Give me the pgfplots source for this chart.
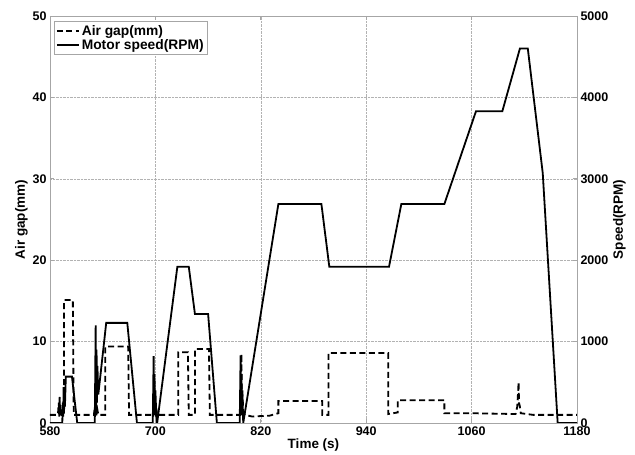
\documentclass[border=0pt]{standalone}
\usepackage{fontspec}
\setmainfont{Liberation Sans}
\usepackage{pgfplots}
\pgfplotsset{compat=1.18}
\pgfplotsset{
  common/.style={
    scale only axis, width=527pt, height=407pt,
    xmin=580, xmax=1180,
    tick align=inside,
    major tick length=4pt,
    tick style={gray!70, line width=0.6pt},
    axis line style={gray!70, line width=0.8pt},
    every tick label/.append style={font=\fontsize{12.5}{14}\selectfont\bfseries},
    /pgf/number format/assume math mode=true,
    /pgf/number format/1000 sep={},
    label style={font=\fontsize{13.5}{15}\selectfont\bfseries},
  }
}
\begin{document}
\begin{tikzpicture}
\begin{axis}[common,
  ymin=0, ymax=50,
  xtick={580,700,...,1180}, ytick={0,10,...,50},
  grid=major, grid style={densely dotted, gray!60, line width=0.5pt},
  xlabel={Time (s)}, ylabel={Air gap(mm)},
  xlabel style={yshift=4pt},
  ylabel style={yshift=-2pt},
  legend style={at={(0.008,0.987)}, anchor=north west, draw=gray!70, line width=0.6pt,
    font=\fontsize{13.8}{15}\selectfont\bfseries, inner sep=1.5pt, row sep=-1pt},
  legend cell align=left,
  legend image code/.code={\draw[#1] (0pt,0pt) -- (22pt,0pt);},
]
\addplot[black, line width=1.8pt, dash pattern=on 6pt off 3.5pt] coordinates {
(580,1.0) (589,1.0) (590,2.5) (590.5,0.8) (591,3.2) (591.5,1.0) (592,2.2) (593,1.0) (596,1.0)
(596,15.1) (606,15.1) (607,1.0)
(630,1.0) (631,2.0) (631.5,0.8) (632,3.0) (633,0.9) (634,1.6) (635,1.0)
(643,1.0) (643,9.4) (669,9.4) (670,1.0)
(699,1.0) (700,2.2) (700.5,0.8) (701,1.8) (702,1.0)
(726,1.0) (726,8.7) (737,8.7) (738,1.0)
(745,1.0) (745,9.1) (761,9.1) (762,1.0)
(797,1.0) (798,8.5) (798.5,1.5) (799,4.0) (800,1.5) (802,1.0)
(810,0.8) (830,0.9) (840,1.2)
(840,2.7) (890,2.7) (890,1.0) (897,1.0)
(897,8.6) (965,8.6) (965,1.1) (976,1.3)
(976,2.8) (1029,2.8) (1029,1.2) (1060,1.2) (1110,1.1)
(1112,2.0) (1113.5,5.0) (1114,2.5) (1115,2.0) (1116,1.2) (1130,1.0) (1180,1.0)
};
\addlegendentry{Air gap(mm)}
\addlegendimage{black, line width=1.8pt}
\addlegendentry{Motor speed(RPM)}
\end{axis}
\begin{axis}[common,
  ymin=0, ymax=5000,
  axis y line*=right, axis x line=none,
  ytick={0,1000,...,5000},
  ylabel={Speed(RPM)},
  ylabel style={yshift=2pt},
]
\addplot[black, line width=1.8pt] coordinates {
(580,0) (594,0) (594.5,250) (595,80) (595.5,440) (596,150) (596.5,350) (597,200) (598,570)
(605,570) (611,0)
(631,0) (632,1200) (632.5,150) (633,900) (633.5,250) (634,700) (635,350) (644,1230)
(668,1230) (679,0)
(697,0) (698,820) (698.5,100) (699,600) (699.5,150) (700,400) (701,100) (702,0)
(725,1920) (738,1920) (745,1340) (760,1340) (770,0)
(796,0) (797,830) (797.5,100) (798,600) (798.5,150) (799,350) (800,0)
(840,2690) (889,2690) (898,1920) (966,1920) (980,2690) (1029,2690)
(1065,3830) (1095,3830) (1115,4600) (1124,4600) (1141,3070) (1158,0) (1180,0)
};
\end{axis}
\pgfresetboundingbox
\path (-50pt,-32pt) rectangle (585pt,423pt);
\end{tikzpicture}
\end{document}
